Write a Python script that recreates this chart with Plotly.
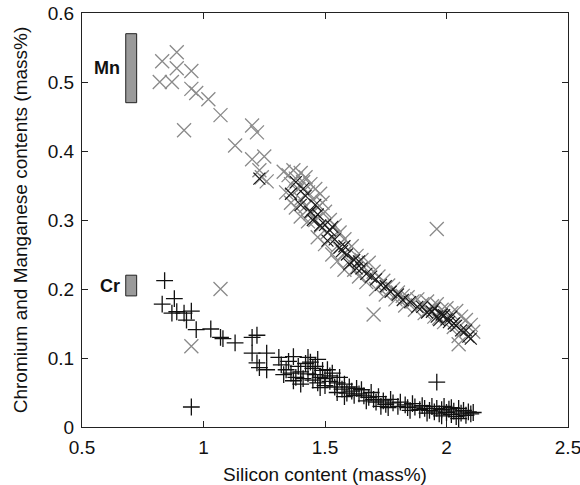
import plotly.graph_objects as go

# Mn (grey crosses)
mn_grey_x = [0.83, 0.89, 0.89, 0.95, 0.82, 0.87, 0.95, 0.97, 1.02, 1.07, 0.92, 1.13, 1.20, 1.22, 1.20, 1.25, 1.23, 1.26, 1.24,
             1.07, 0.95, 1.96, 1.70, 2.05,
             1.33, 1.35, 1.37, 1.38, 1.36, 1.40, 1.34, 1.39, 1.41, 1.42, 1.36, 1.40, 1.43, 1.44, 1.38, 1.42, 1.45, 1.46, 1.48,
             1.40, 1.44, 1.47, 1.49, 1.43, 1.46, 1.50, 1.52, 1.48, 1.51, 1.54, 1.47, 1.53, 1.56, 1.50, 1.55, 1.58, 1.53, 1.58,
             1.61, 1.55, 1.60, 1.63, 1.65, 1.58, 1.62, 1.66, 1.68, 1.64, 1.70, 1.72, 1.67, 1.74, 1.76, 1.71, 1.78, 1.80, 1.75,
             1.82, 1.84, 1.79, 1.86, 1.88, 1.83, 1.90, 1.92, 1.87, 1.94, 1.96, 1.91, 1.98, 2.00, 1.95, 2.02, 2.04, 1.99, 2.06,
             2.08, 2.03, 2.10, 2.07, 2.11, 2.05, 1.97, 1.93]
mn_grey_y = [0.530, 0.543, 0.520, 0.516, 0.500, 0.500, 0.490, 0.484, 0.475, 0.452, 0.430, 0.408, 0.437, 0.427, 0.388, 0.392, 0.372, 0.356, 0.362,
             0.200, 0.117, 0.287, 0.163, 0.120,
             0.370, 0.365, 0.372, 0.360, 0.352, 0.368, 0.340, 0.345, 0.355, 0.362, 0.325, 0.330, 0.340, 0.352, 0.318, 0.320, 0.330, 0.345, 0.338,
             0.305, 0.310, 0.318, 0.325, 0.298, 0.300, 0.312, 0.300, 0.290, 0.282, 0.292, 0.275, 0.275, 0.282, 0.265, 0.262, 0.272, 0.250, 0.252,
             0.262, 0.240, 0.240, 0.248, 0.242, 0.228, 0.228, 0.232, 0.238, 0.218, 0.225, 0.218, 0.210, 0.212, 0.205, 0.200, 0.200, 0.195, 0.192,
             0.190, 0.188, 0.185, 0.182, 0.185, 0.176, 0.178, 0.182, 0.170, 0.175, 0.178, 0.165, 0.170, 0.172, 0.160, 0.165, 0.168, 0.152, 0.160,
             0.155, 0.145, 0.148, 0.140, 0.138, 0.132, 0.158, 0.170]

# Mn (black crosses)
mn_black_x = [1.23, 1.38, 1.36, 1.40, 1.42, 1.44, 1.45, 1.47, 1.48, 1.50, 1.52, 1.51, 1.54, 1.56, 1.57, 1.59, 1.60, 1.62, 1.63,
              1.65, 1.67, 1.69, 1.71, 1.73, 1.75, 1.77, 1.80, 1.82, 1.85, 1.88, 1.90, 1.92, 1.94, 1.96, 1.98, 2.00, 2.01,
              2.03, 2.04, 2.06, 2.08, 2.09, 2.10, 1.95, 1.99, 1.41, 1.46, 1.53, 1.58, 1.64, 1.97, 2.02]
mn_black_y = [0.360, 0.355, 0.338, 0.322, 0.335, 0.312, 0.300, 0.308, 0.292, 0.293, 0.285, 0.270, 0.272, 0.260, 0.255, 0.250, 0.236, 0.242, 0.230,
              0.230, 0.222, 0.218, 0.214, 0.206, 0.204, 0.196, 0.192, 0.184, 0.181, 0.174, 0.174, 0.166, 0.167, 0.160, 0.163, 0.156, 0.152,
              0.150, 0.147, 0.140, 0.140, 0.131, 0.128, 0.172, 0.162, 0.345, 0.322, 0.290, 0.262, 0.240, 0.155, 0.160]

# Cr (plus markers)
cr_x = [0.84, 0.88, 0.83, 0.89, 0.87, 0.92, 0.95, 0.93, 0.97, 1.03, 1.07, 1.08, 1.13, 1.20, 1.22, 1.20, 1.26, 1.22, 1.23, 1.26,
        1.31, 1.37, 0.95, 1.96,
        1.32, 1.34, 1.35, 1.36, 1.38, 1.39, 1.40, 1.41, 1.42, 1.43, 1.44, 1.45, 1.45, 1.46, 1.47, 1.47, 1.48, 1.49, 1.50, 1.50,
        1.51, 1.52, 1.53, 1.54, 1.55, 1.56, 1.57, 1.58, 1.59, 1.60, 1.61, 1.62, 1.63, 1.65, 1.66, 1.68, 1.69, 1.70, 1.71, 1.72,
        1.74, 1.75, 1.77, 1.78, 1.80, 1.81, 1.83, 1.84, 1.86, 1.87, 1.89, 1.90, 1.91, 1.93, 1.94, 1.95, 1.96, 1.97, 1.98, 1.99,
        2.00, 2.01, 2.02, 2.03, 2.04, 2.05, 2.06, 2.07, 2.08, 2.09, 2.10, 2.11,
        1.33, 1.37, 1.40, 1.43, 1.46, 1.48, 1.52, 1.55, 1.58, 1.64, 1.67, 1.73, 1.76, 1.85, 1.92, 2.05, 2.02, 1.98]
cr_y = [0.212, 0.186, 0.178, 0.167, 0.165, 0.165, 0.168, 0.155, 0.141, 0.142, 0.130, 0.128, 0.122, 0.130, 0.133, 0.107, 0.107, 0.093, 0.086, 0.083,
        0.101, 0.102, 0.029, 0.065,
        0.090, 0.083, 0.095, 0.078, 0.072, 0.088, 0.080, 0.070, 0.092, 0.101, 0.094, 0.068, 0.085, 0.076, 0.098, 0.064, 0.072, 0.082, 0.060, 0.070,
        0.083, 0.066, 0.078, 0.058, 0.064, 0.072, 0.055, 0.062, 0.049, 0.058, 0.052, 0.046, 0.056, 0.054, 0.045, 0.043, 0.050, 0.040, 0.036, 0.044,
        0.038, 0.033, 0.040, 0.035, 0.030, 0.036, 0.032, 0.028, 0.034, 0.029, 0.025, 0.031, 0.027, 0.024, 0.030, 0.022, 0.027, 0.019, 0.025, 0.030,
        0.021, 0.026, 0.018, 0.023, 0.015, 0.027, 0.020, 0.024, 0.017, 0.022, 0.019, 0.021,
        0.076, 0.067, 0.062, 0.077, 0.088, 0.057, 0.074, 0.050, 0.044, 0.048, 0.038, 0.030, 0.028, 0.024, 0.020, 0.012, 0.028, 0.016]

# Range bars (labels, x extent, y extents)
bar_labels = ["Mn", "Cr"]
bar_x = [0.68, 0.725]
bar_y0 = [0.47, 0.19]
bar_y1 = [0.57, 0.22]

GREY = "#8a8a8a"
FONT = "Liberation Sans, Arial, sans-serif"

fig = go.Figure()
fig.add_trace(go.Scatter(x=mn_grey_x, y=mn_grey_y, mode="markers",
                         marker=dict(symbol="x-thin", size=14, line=dict(color=GREY, width=1.3)),
                         showlegend=False))
fig.add_trace(go.Scatter(x=mn_black_x, y=mn_black_y, mode="markers",
                         marker=dict(symbol="x-thin", size=12, line=dict(color="#1a1a1a", width=1.2)),
                         showlegend=False))
fig.add_trace(go.Scatter(x=cr_x, y=cr_y, mode="markers",
                         marker=dict(symbol="cross-thin", size=12, line=dict(color="#111111", width=1.3)),
                         showlegend=False))

for lab, y0, y1 in zip(bar_labels, bar_y0, bar_y1):
    fig.add_shape(type="rect", xref="x", yref="y", x0=bar_x[0], x1=bar_x[1], y0=y0, y1=y1,
                  fillcolor="#9a9a9a", line=dict(color="#222222", width=1))
    fig.add_annotation(x=bar_x[0] - 0.015, y=(y0 + y1) / 2, xref="x", yref="y", text="<b>%s</b>" % lab,
                       showarrow=False, xanchor="right", yanchor="middle",
                       font=dict(family=FONT, size=18, color="#111111"))

axis_common = dict(showline=True, linecolor="#222222", linewidth=1.2, mirror="ticks",
                   ticks="inside", ticklen=6, tickwidth=1.2, tickcolor="#222222",
                   showgrid=False, zeroline=False, automargin=False,
                   ticklabeloverflow="allow", ticklabelstandoff=3,
                   tickfont=dict(family=FONT, size=19, color="#111111"))

fig.update_xaxes(range=[0.5, 2.5], tick0=0.5, dtick=0.5,
                 title=dict(text="Silicon content (mass%)", font=dict(family=FONT, size=19, color="#111111")),
                 **axis_common)
fig.update_yaxes(range=[0, 0.6], tick0=0, dtick=0.1,
                 title=dict(text="Chromium and Manganese contents (mass%)", font=dict(family=FONT, size=19, color="#111111")),
                 **axis_common)

fig.update_layout(width=580, height=485, margin=dict(l=82, r=12, t=13, b=58),
                  plot_bgcolor="white", paper_bgcolor="white")

fig.write_html("out.html", config={"displayModeBar": False},
               post_script="document.body.style.margin='0';document.body.style.overflow='hidden';")
